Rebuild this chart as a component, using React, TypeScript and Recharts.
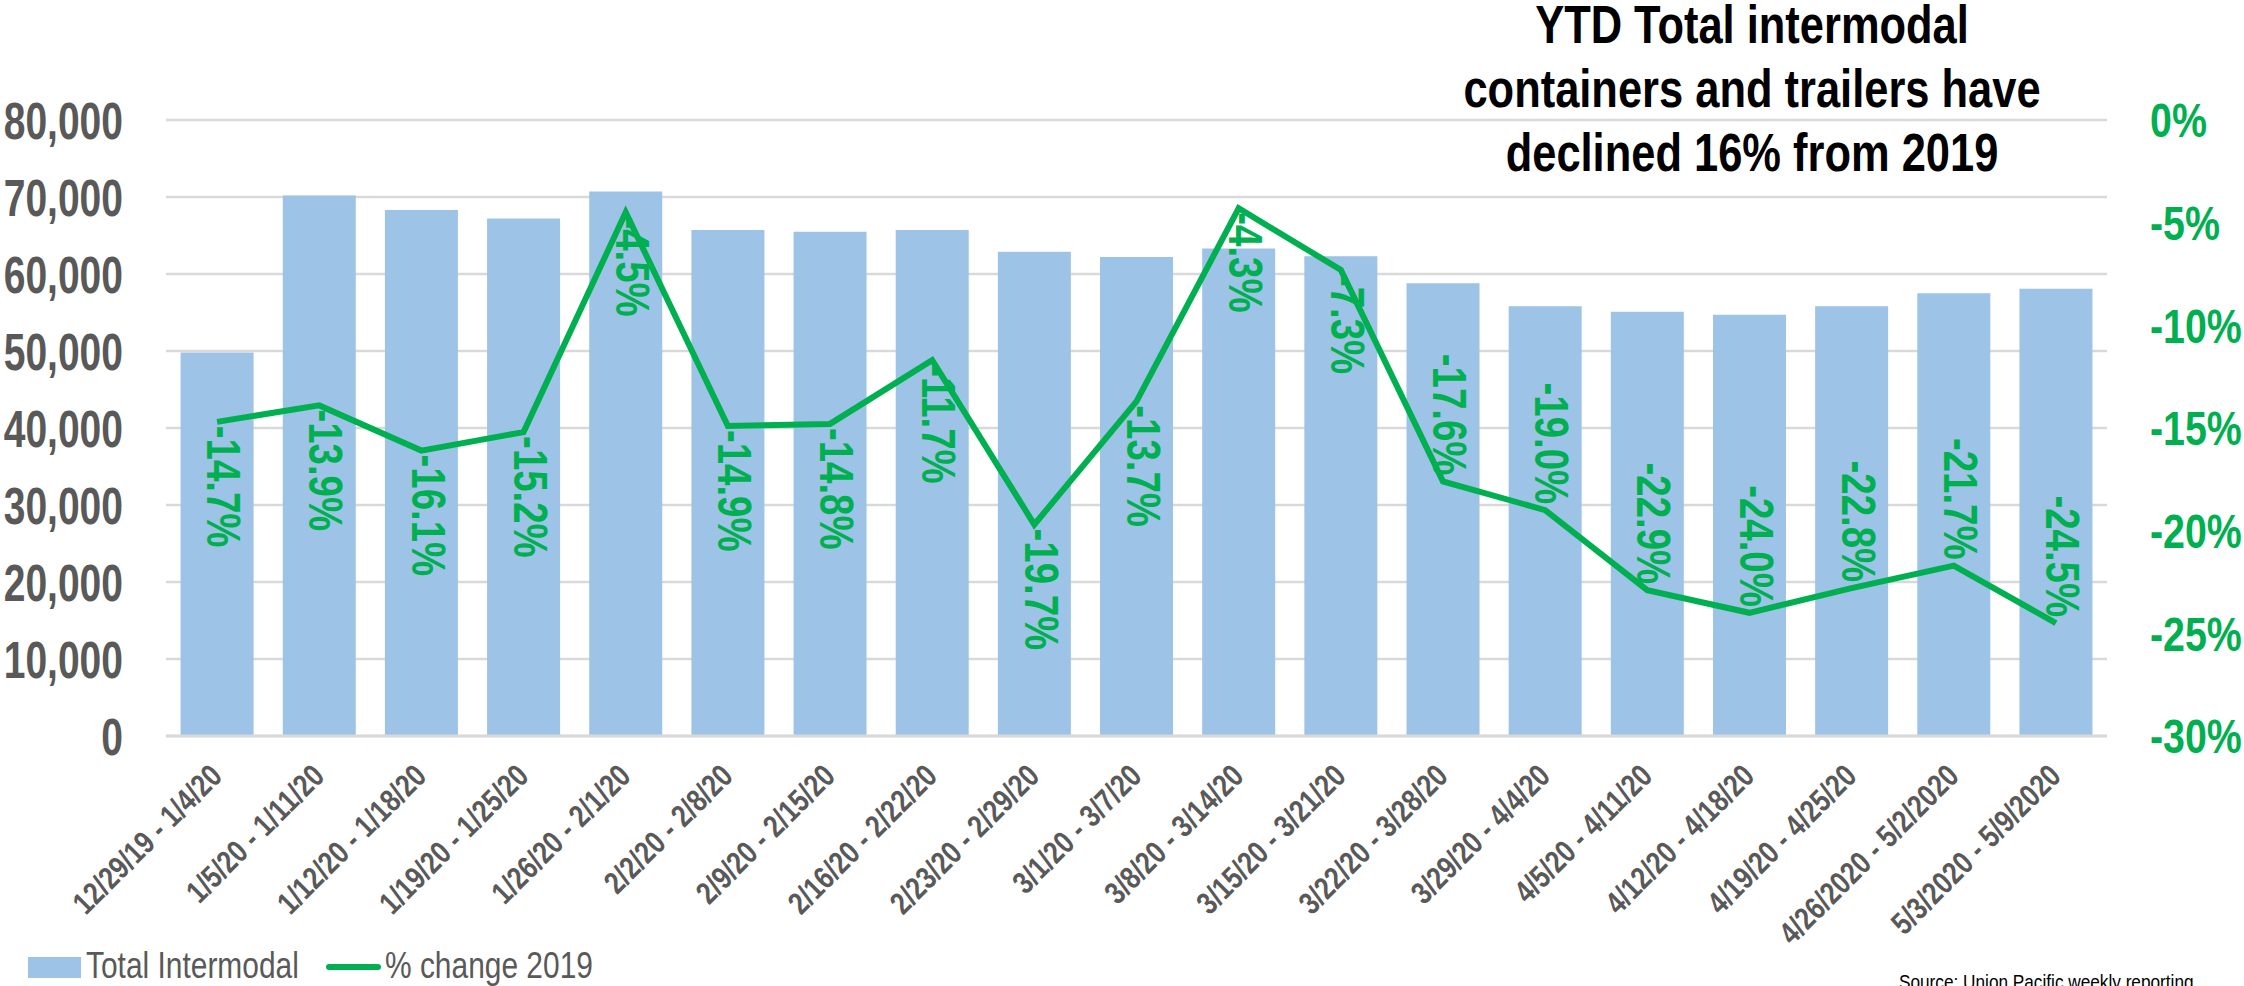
import React from 'react';
import {
  ComposedChart,
  Bar,
  Line,
  XAxis,
  YAxis,
  CartesianGrid,
  LabelList,
} from 'recharts';

const weeks = [
  '12/29/19 - 1/4/20', '1/5/20 - 1/11/20', '1/12/20 - 1/18/20', '1/19/20 - 1/25/20',
  '1/26/20 - 2/1/20', '2/2/20 - 2/8/20', '2/9/20 - 2/15/20', '2/16/20 - 2/22/20',
  '2/23/20 - 2/29/20', '3/1/20 - 3/7/20', '3/8/20 - 3/14/20', '3/15/20 - 3/21/20',
  '3/22/20 - 3/28/20', '3/29/20 - 4/4/20', '4/5/20 - 4/11/20', '4/12/20 - 4/18/20',
  '4/19/20 - 4/25/20', '4/26/2020 - 5/2/2020', '5/3/2020 - 5/9/2020',
];

const totalIntermodal = [
  49800, 70200, 68300, 67200, 70700, 65700, 65500, 65700, 62900, 62200,
  63300, 62300, 58800, 55800, 55100, 54700, 55800, 57500, 58100,
];

const pctChange2019 = [
  -14.7, -13.9, -16.1, -15.2, -4.5, -14.9, -14.8, -11.7, -19.7, -13.7,
  -4.3, -7.3, -17.6, -19.0, -22.9, -24.0, -22.8, -21.7, -24.5,
];

const leftTicks = [0, 10000, 20000, 30000, 40000, 50000, 60000, 70000, 80000];
const rightTicks = [-30, -25, -20, -15, -10, -5, 0];

const titleLines = [
  'YTD Total intermodal',
  'containers and trailers have',
  'declined 16% from 2019',
];

const data = weeks.map((week, i) => ({
  week,
  total: totalIntermodal[i],
  pct: pctChange2019[i],
}));

// no Arial Narrow in the sandbox: squeeze Liberation Sans horizontally instead
const SANS = "'Liberation Sans', Arial, sans-serif";
const GREEN = '#00B050';
const BLUE = '#9DC3E6';
const GREY = '#595959';
const GRID = '#D9D9D9';

// labels sit under the point for the first weeks, above it from 3/22 on
const FIRST_ABOVE = 12;

const NarrowText = ({ x, y, anchor = 'start', size, fill, bold = false, rotate = 0, squeeze = 0.82, dy, children }: any) => (
  <g transform={`translate(${x},${y}) rotate(${rotate}) scale(${squeeze},1)`}>
    <text
      textAnchor={anchor}
      dy={dy}
      fill={fill}
      fontFamily={SANS}
      fontWeight={bold ? 'bold' : 'normal'}
      fontSize={size}
    >
      {children}
    </text>
  </g>
);

const WeekTick = (props: any) => {
  const { x, y, payload } = props;
  return (
    <NarrowText x={x - 1} y={y + 34} rotate={-45} anchor="end" dy="0.35em" size={31.5} fill={GREY} bold>
      {payload.value}
    </NarrowText>
  );
};

const LeftTick = (props: any) => {
  const { x, y, payload } = props;
  return (
    <NarrowText x={x} y={y} anchor="end" dy="0.36em" size={52} squeeze={0.75} fill={GREY} bold>
      {Number(payload.value).toLocaleString('en-US')}
    </NarrowText>
  );
};

const RightTick = (props: any) => {
  const { x, y, payload } = props;
  return (
    <NarrowText x={x} y={y} anchor="start" dy="0.36em" size={48} fill={GREEN} bold>
      {`${payload.value}%`}
    </NarrowText>
  );
};

const PctLabel = (props: any) => {
  const { x, y, value, index } = props;
  const above = index >= FIRST_ABOVE;
  return (
    <NarrowText
      x={x + 7}
      y={above ? y - 6 : y + 4}
      rotate={90}
      anchor={above ? 'end' : 'start'}
      dy="0.35em"
      size={48}
      squeeze={0.8}
      fill={GREEN}
      bold
    >
      {`${Number(value).toFixed(1)}%`}
    </NarrowText>
  );
};

const App: React.FC = () => {
  return (
    <div style={{ position: 'absolute', left: 0, top: 0, width: 2244, height: 986, background: '#fff' }}>
      <ComposedChart
        width={2244}
        height={986}
        data={data}
        margin={{ top: 120, right: 0, bottom: 50, left: 0 }}
        barCategoryGap="14.3%"
      >
        <CartesianGrid yAxisId="left" horizontal vertical={false} stroke={GRID} strokeWidth={2.5} />
        <XAxis
          dataKey="week"
          height={200}
          interval={0}
          tickLine={false}
          tickSize={0}
          tickMargin={0}
          axisLine={{ stroke: GRID, strokeWidth: 3 }}
          tick={<WeekTick />}
        />
        <YAxis
          yAxisId="left"
          width={166}
          domain={[0, 80000]}
          ticks={leftTicks}
          axisLine={false}
          tickLine={false}
          tickSize={0}
          tickMargin={43}
          tick={<LeftTick />}
        />
        <YAxis
          yAxisId="right"
          orientation="right"
          width={137}
          domain={[-30, 0]}
          ticks={rightTicks}
          axisLine={false}
          tickLine={false}
          tickSize={0}
          tickMargin={43}
          tick={<RightTick />}
        />
        <Bar yAxisId="left" dataKey="total" fill={BLUE} isAnimationActive={false} />
        <Line
          yAxisId="right"
          type="linear"
          dataKey="pct"
          stroke={GREEN}
          strokeWidth={6}
          dot={false}
          activeDot={false}
          isAnimationActive={false}
        >
          <LabelList dataKey="pct" content={<PctLabel />} />
        </Line>
      </ComposedChart>

      <svg
        width={2244}
        height={986}
        style={{ position: 'absolute', left: 0, top: 0, pointerEvents: 'none' }}
      >
        {titleLines.map((line, i) => (
          <NarrowText key={line} x={1752} y={43 + i * 64} anchor="middle" size={53} fill="#000" bold>
            {line}
          </NarrowText>
        ))}

        <rect x={28} y={957} width={53} height={21} fill={BLUE} />
        <NarrowText x={86} y={978} size={36.5} fill={GREY}>
          Total Intermodal
        </NarrowText>
        <line x1={329} x2={378} y1={967} y2={967} stroke={GREEN} strokeWidth={6} strokeLinecap="round" />
        <NarrowText x={385} y={978} size={36.5} fill={GREY}>
          % change 2019
        </NarrowText>

        <NarrowText x={1899} y={989} size={21} fill="#000">
          Source: Union Pacific weekly reporting
        </NarrowText>
      </svg>
    </div>
  );
};

export default App;
